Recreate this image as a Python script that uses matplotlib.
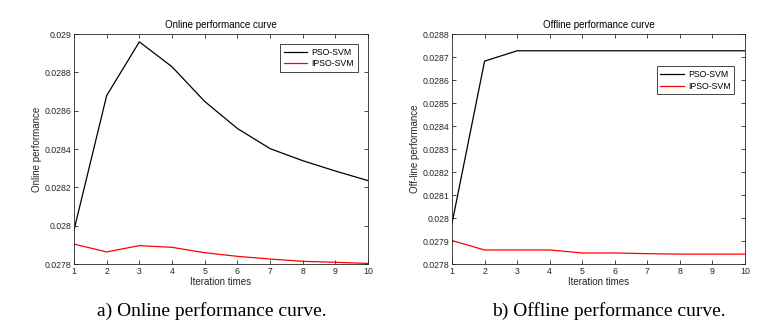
import matplotlib
matplotlib.use("Agg")
import matplotlib.pyplot as plt
from matplotlib.ticker import FuncFormatter, MultipleLocator
import numpy as np

# iteration index
iters = np.arange(1, 11)

# online performance
online_pso = [0.027977, 0.028679, 0.028959, 0.028829, 0.028648,
              0.028507, 0.028402, 0.028339, 0.028285, 0.028235]
online_ipso = [0.027904, 0.027863, 0.027896, 0.027887, 0.027859,
               0.027840, 0.027826, 0.027814, 0.027809, 0.027803]

# offline performance
offline_pso = [0.027977, 0.028682, 0.028727, 0.028727, 0.028727,
               0.028727, 0.028727, 0.028727, 0.028727, 0.028727]
offline_ipso = [0.027902, 0.027861, 0.027861, 0.027861, 0.027848,
                0.027848, 0.027845, 0.027843, 0.027843, 0.027843]

plt.rcParams['font.family'] = ['Liberation Sans', 'DejaVu Sans']
axcol = '#262626'

fig = plt.figure(figsize=(7.74, 3.35), dpi=100)
ax1 = fig.add_axes([0.0956, 0.2119, 0.380, 0.6866])
ax2 = fig.add_axes([0.584, 0.2119, 0.3786, 0.6866])


def style(ax, title, ylabel, ystep, ylim, legend_anchor):
    ax.set_xlim(1, 10)
    ax.set_ylim(*ylim)
    ax.xaxis.set_major_locator(MultipleLocator(1))
    ax.yaxis.set_major_locator(MultipleLocator(ystep))
    ax.yaxis.set_major_formatter(FuncFormatter(lambda v, p: '{:g}'.format(round(v, 6))))
    ax.tick_params(direction='in', top=True, right=True, length=3, width=0.6,
                   labelsize=6.3, colors=axcol, pad=2)
    for s in ax.spines.values():
        s.set_color(axcol)
        s.set_linewidth(0.6)
    ax.set_title(title, fontsize=7, color='black', pad=4)
    ax.set_xlabel('Iteration times', fontsize=7, color=axcol, labelpad=1)
    ax.set_ylabel(ylabel, fontsize=7, color=axcol, labelpad=2)
    # legend box like matlab: square corners, thin dark edge
    leg = ax.legend(loc='upper right', bbox_to_anchor=legend_anchor, fontsize=6.3,
                    fancybox=False, framealpha=1, handlelength=2.7,
                    borderpad=0.4, labelspacing=0.3, handletextpad=0.5)
    leg.get_frame().set_edgecolor(axcol)
    leg.get_frame().set_linewidth(0.6)


ax1.plot(iters, online_pso, color='black', lw=0.9, label='PSO-SVM')
ax1.plot(iters, online_ipso, color='red', lw=0.9, label='IPSO-SVM')
style(ax1, 'Online performance curve', 'Online performance', 0.0002,
      (0.0278, 0.029), (0.98, 0.974))

ax2.plot(iters, offline_pso, color='black', lw=0.9, label='PSO-SVM')
ax2.plot(iters, offline_ipso, color='red', lw=0.9, label='IPSO-SVM')
style(ax2, 'Offline performance curve', 'Off-line performance', 0.0001,
      (0.0278, 0.0288), (0.978, 0.878))

fig.text(0.274, 0.072, 'a) Online performance curve.', ha='center', va='center',
         fontsize=14, family='Liberation Serif')
fig.text(0.786, 0.072, 'b) Offline performance curve.', ha='center', va='center',
         fontsize=14, family='Liberation Serif')

fig.savefig('out.png', dpi=100)
